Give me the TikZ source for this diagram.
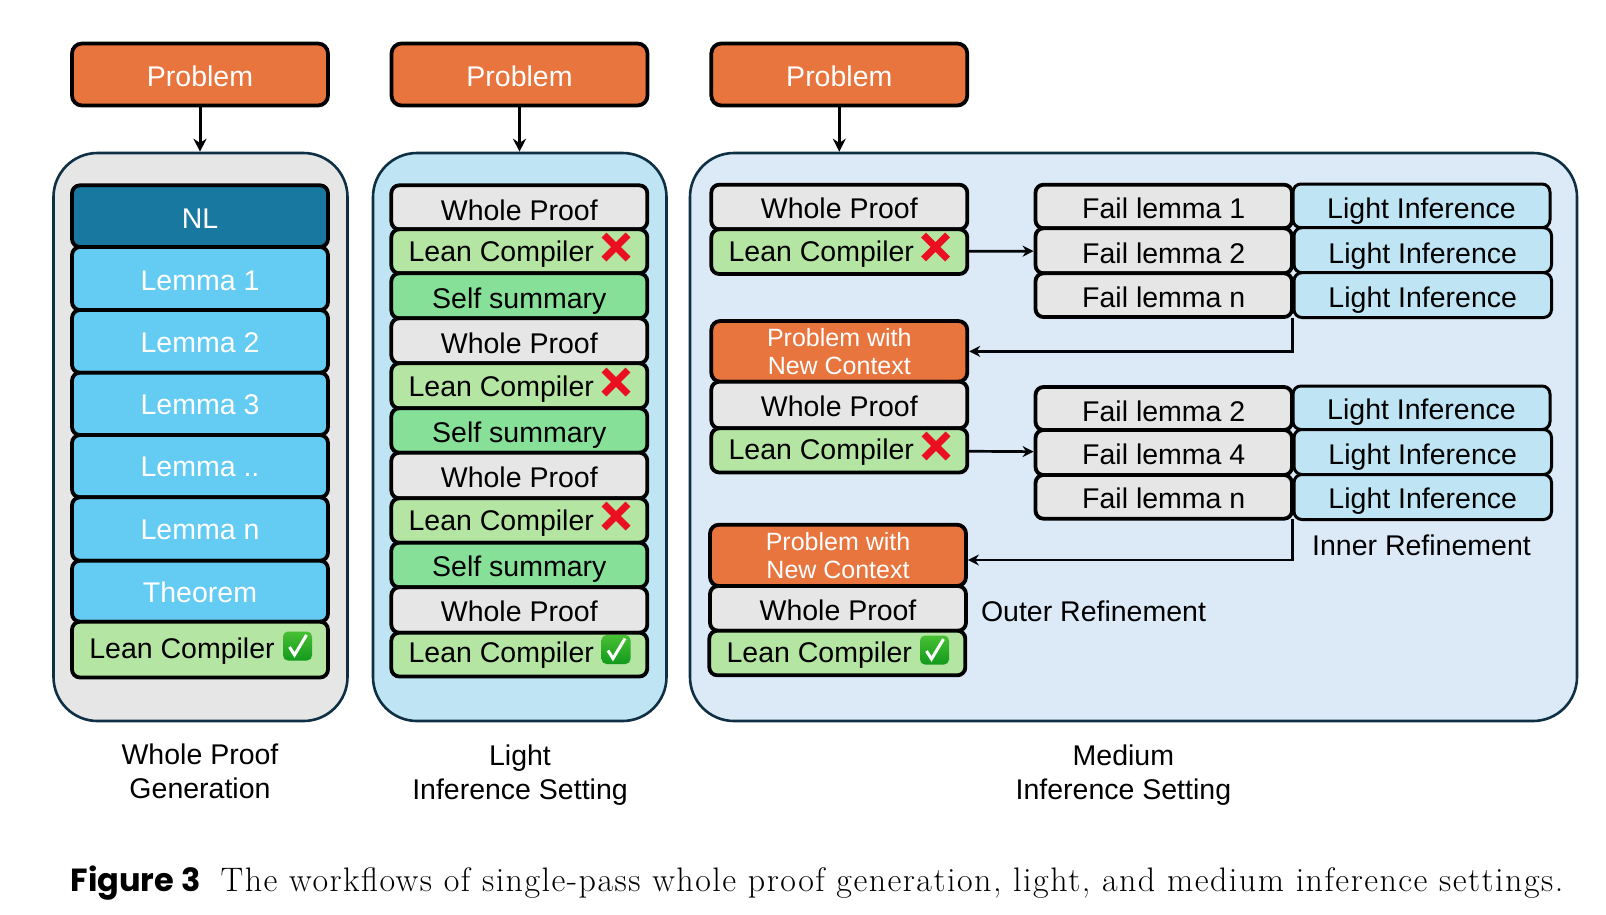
\documentclass[tikz,border=0pt]{standalone}
\usepackage{fontspec}
\setmainfont{Liberation Sans}
\newfontfamily\capbold{Poppins}
\newfontfamily\capserif{Latin Modern Roman}[LetterSpace=4.35]
\usetikzlibrary{arrows.meta}
\definecolor{cProb}{HTML}{E8743E}
\definecolor{cNL}{HTML}{18789F}
\definecolor{cLem}{HTML}{64CBF3}
\definecolor{cLean}{HTML}{B5E5A3}
\definecolor{cSelf}{HTML}{86E097}
\definecolor{cGrey}{HTML}{E6E6E6}
\definecolor{cLight}{HTML}{BFE5F5}
\definecolor{cMed}{HTML}{DCE9F7}
\definecolor{cEdge}{HTML}{0E2F44}
\definecolor{cRed}{HTML}{EA1021}
\definecolor{cCheckA}{HTML}{48C034}
\definecolor{cCheckB}{HTML}{129A1C}
\newcommand\dn[2]{\raisebox{-#1pt}{#2}}
\newcommand\lean[1]{\raisebox{-#1pt}{Lean Compiler}\rule{36pt}{0pt}}
\newcommand\stackbox[7]{\node[#6,minimum width={(#4-#2)*1pt},minimum height={(#5-#3)*1pt}] (#1) at ({(#2+#4)/2},{(#3+#5)/2}) {#7};}
\newcommand\crossmk[2]{\draw[cRed,line width=7pt] (#1-12,#2-12) -- (#1+12,#2+12) (#1-12,#2+12) -- (#1+12,#2-12);}
\newcommand\checkmk[2]{\shade[top color=cCheckA,bottom color=cCheckB,rounded corners=5pt] (#1-14.5,#2-14.5) rectangle (#1+14.5,#2+14.5);
  \draw[white,line width=3pt] (#1-8,#2+1) -- (#1-3,#2+9) -- (#1+9,#2-11);}
\tikzset{
  x=1pt,y=-1pt,
  bx/.style={draw=black,line width=3.8pt,rounded corners=8pt,inner sep=0pt,text height=20.4pt,text depth=0pt,font=\fontsize{28.5}{34}\selectfont,text=black},
  probbx/.style={bx,fill=cProb,text=white,rounded corners=10pt},
  nlbx/.style={bx,fill=cNL,text=white},
  lembx/.style={bx,fill=cLem,text=white},
  leanbx/.style={bx,fill=cLean},
  selfbx/.style={bx,fill=cSelf},
  greybx/.style={bx,fill=cGrey},
  lightbx/.style={bx,fill=cLight,line width=3pt},
  ctxbx/.style={draw=black,line width=3.8pt,rounded corners=9pt,inner sep=0pt,fill=cProb,text=white,align=center,font=\fontsize{25}{28.5}\selectfont},
  panel/.style={draw=cEdge,line width=2.6pt,rounded corners=44pt,inner sep=0pt},
  arrowbig/.style={draw=black,line width=3pt,-{Stealth[length=13pt,width=13pt]}},
  arrowsmall/.style={draw=black!90!cEdge,line width=2.7pt,-{Stealth[length=11pt,width=11pt]}},
  lab/.style={font=\fontsize{28.5}{34}\selectfont,inner sep=0pt,text=black},
}
\begin{document}
\begin{tikzpicture}
\fill[white] (0,0) rectangle (1606,914);
\useasboundingbox (0,0) rectangle (1606,914);
% panels
\stackbox{panA}{53.5}{153}{347.5}{721}{panel,fill=cGrey}{}
\stackbox{panB}{373}{153}{666.5}{721}{panel,fill=cLight}{}
\stackbox{panC}{690}{153}{1577}{721}{panel,fill=cMed}{}
% problems
\stackbox{pA}{72}{43.5}{328}{105.5}{probbx}{\dn{1.5}{Problem}}
\stackbox{pB}{391.5}{43.5}{647.5}{105.5}{probbx}{\dn{1.5}{Problem}}
\stackbox{pC}{711.3}{43.5}{967.3}{105.5}{probbx}{\dn{1.5}{Problem}}
\draw[arrowbig] (pA) -- (pA|-panA.north);
\draw[arrowbig] (pB) -- (pB|-panB.north);
\draw[arrowbig] (pC) -- (pC|-panC.north);
% column A
\stackbox{nl}{72}{185.3}{328}{247}{nlbx}{\dn{2}{NL}}
\stackbox{la}{72}{247}{328}{310}{lembx}{\dn{1.5}{Lemma 1}}
\stackbox{lb}{72}{310}{328}{372.7}{lembx}{\dn{.7}{Lemma 2}}
\stackbox{lc}{72}{372.7}{328}{435}{lembx}{\dn{.2}{Lemma 3}}
\stackbox{ld}{72}{435}{328}{497.3}{lembx}{\dn{.5}{Lemma ..}}
\stackbox{le}{72}{497.3}{328}{560.7}{lembx}{\dn{.7}{Lemma n}}
\stackbox{th}{72}{560.7}{328}{621.7}{lembx}{\dn{.8}{Theorem}}
\stackbox{lnA}{72}{621.7}{328}{677.5}{leanbx}{\lean{-1.2}}
\checkmk{297.5}{646}
% column B
\stackbox{wb1}{391.3}{185.3}{647.3}{229.3}{greybx}{\dn{3}{Whole Proof}}
\stackbox{lb1}{391.3}{229.3}{647.3}{273.3}{leanbx}{\lean{0}}
\stackbox{sb1}{391.3}{273.3}{647.3}{318.3}{selfbx}{\dn{2.5}{Self summary}}
\stackbox{wb2}{391.3}{318.3}{647.3}{363.3}{greybx}{\dn{2}{Whole Proof}}
\stackbox{lb2}{391.3}{363.3}{647.3}{408.3}{leanbx}{\lean{.5}}
\stackbox{sb2}{391.3}{408.3}{647.3}{452.7}{selfbx}{\dn{2}{Self summary}}
\stackbox{wb3}{391.3}{452.7}{647.3}{498.3}{greybx}{\dn{2}{Whole Proof}}
\stackbox{lb3}{391.3}{498.3}{647.3}{542.7}{leanbx}{\lean{0}}
\stackbox{sb3}{391.3}{542.7}{647.3}{587.3}{selfbx}{\dn{1.7}{Self summary}}
\stackbox{wb4}{391.3}{587.3}{647.3}{632.7}{greybx}{\dn{1.7}{Whole Proof}}
\stackbox{lb4}{391.3}{632.7}{647.3}{676.5}{leanbx}{\lean{-2.5}}
\crossmk{616}{247}
\crossmk{616}{382}
\crossmk{616}{516}
\checkmk{616}{649.5}
% column C
\stackbox{wc1}{711.3}{184.7}{967.3}{229.3}{greybx}{\dn{1}{Whole Proof}}
\stackbox{lc1}{711.3}{229.3}{967.3}{274}{leanbx}{\lean{0}}
\stackbox{nc1}{711.3}{321}{967.3}{381.7}{ctxbx}{Problem with\\New Context}
\stackbox{wc2}{711.3}{381.7}{967.3}{428.3}{greybx}{\dn{1.3}{Whole Proof}}
\stackbox{lc2}{711.3}{428.3}{967.3}{472.5}{leanbx}{\lean{-1}}
\stackbox{nc2}{710}{524.7}{966}{586}{ctxbx}{Problem with\\New Context}
\stackbox{wc3}{710}{586}{966}{630.7}{greybx}{\dn{2.4}{Whole Proof}}
\stackbox{lc3}{709.3}{630.7}{965.3}{675.3}{leanbx}{\lean{-.7}}
\crossmk{935.5}{247}
\crossmk{936}{446}
\checkmk{934.5}{650}
% fail lemmas
\stackbox{f1}{1035.5}{184.7}{1292}{228.3}{greybx}{\dn{2.2}{Fail lemma 1}}
\stackbox{f2}{1035.5}{228.3}{1292}{273.3}{greybx}{\dn{2.7}{Fail lemma 2}}
\stackbox{f3}{1035.5}{273.3}{1292}{317}{greybx}{\dn{2.6}{Fail lemma n}}
\stackbox{f4}{1035.5}{387}{1292}{430}{greybx}{\dn{2.5}{Fail lemma 2}}
\stackbox{f5}{1035.5}{430}{1292}{475}{greybx}{\dn{1.5}{Fail lemma 4}}
\stackbox{f6}{1035.5}{475}{1292}{518.7}{greybx}{\dn{1.4}{Fail lemma n}}
% light
\stackbox{i1}{1293}{184}{1550}{227.7}{lightbx}{\dn{2.8}{Light Inference}}
\stackbox{i2}{1294}{227.7}{1551.5}{272.7}{lightbx}{\dn{3.5}{Light Inference}}
\stackbox{i3}{1294}{272.7}{1551.5}{317.5}{lightbx}{\dn{2}{Light Inference}}
\stackbox{i4}{1293}{386}{1550}{429.5}{lightbx}{\dn{1.8}{Light Inference}}
\stackbox{i5}{1294}{429.5}{1551.5}{474.5}{lightbx}{\dn{2}{Light Inference}}
\stackbox{i6}{1294}{474.5}{1551.5}{519.5}{lightbx}{\dn{1.5}{Light Inference}}
% connectors
\coordinate (r1) at (1292.5,318);
\coordinate (r2) at (1292.5,519);
\coordinate (in2) at (nc2.east|-0,560);
\draw[arrowsmall] (lc1) -- (f2);
\draw[arrowsmall] (lc2) -- (f5);
\draw[arrowsmall] (r1) |- (nc1.east);
\draw[arrowsmall] (r2) |- (in2);
% labels
\node[lab,anchor=base] (inner) at (1421.5,555) {Inner Refinement};
\node[lab,anchor=base] (outer) at (1093.5,621) {Outer Refinement};
\node[lab,anchor=base,align=center] (cA1) at (200,798.7) {Whole Proof\\Generation};
\node[lab,anchor=base,align=center] (cB1) at (520,799) {Light\\Inference Setting};
\node[lab,anchor=base,align=center] (cC1) at (1123.4,799) {Medium\\Inference Setting};
% caption
\node[inner sep=0pt,anchor=base west,font=\capbold\bfseries\fontsize{32}{36}\selectfont] (figno) at (70.5,891.5) {Figure 3};
\node[inner sep=0pt,anchor=base west,font=\capserif\fontsize{34}{38}\selectfont] (cap) at (220.4,891) {The workflows of single-pass whole proof generation, light, and medium inference settings.};
\end{tikzpicture}
\end{document}
